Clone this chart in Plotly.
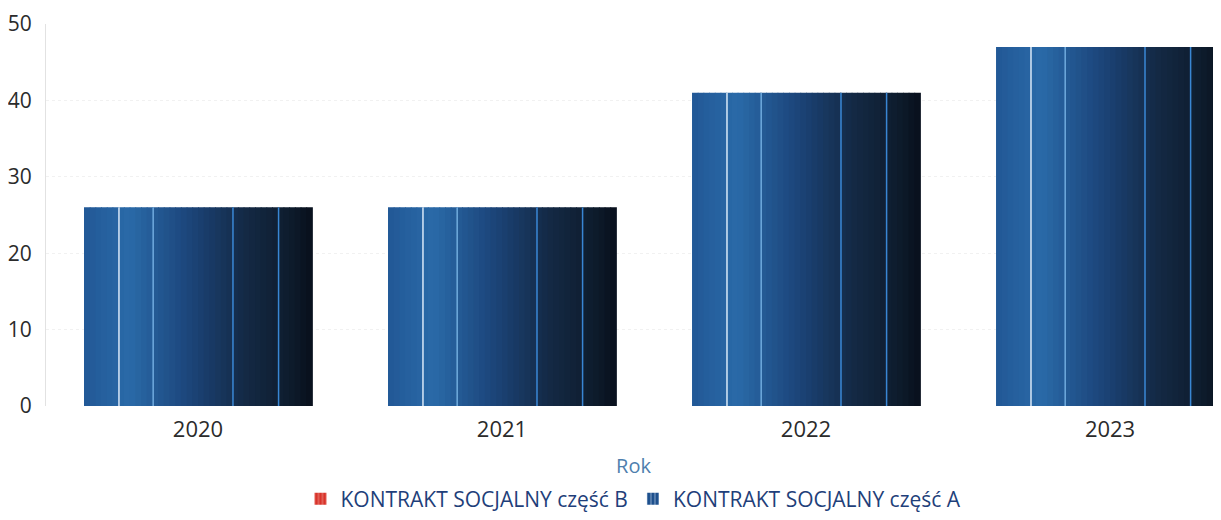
import plotly.graph_objects as go

# data
years = ["2020", "2021", "2022", "2023"]
part_a = [26, 26, 41, 47]
part_b = [0, 0, 0, 0]

# look of the scanned bars: horizontal gradient + thin vertical streaks
grad = [(0.0, (34, 88, 150)), (0.2, (42, 106, 168)), (0.45, (28, 70, 124)),
        (0.7, (20, 42, 70)), (0.9, (14, 28, 45)), (1.0, (8, 16, 28))]
streaks = [(0.15, "rgba(235,245,255,0.9)"), (0.30, "rgba(120,180,230,0.9)"),
           (0.65, "rgba(60,140,220,0.95)"), (0.85, "rgba(60,140,220,0.95)")]
bar_w = 0.75
n_slices = 40


def colour_at(t):
    for (t0, c0), (t1, c1) in zip(grad, grad[1:]):
        if t <= t1:
            f = (t - t0) / (t1 - t0)
            return "rgb(%d,%d,%d)" % tuple(round(a + (b - a) * f) for a, b in zip(c0, c1))
    return "rgb(%d,%d,%d)" % grad[-1][1]


fig = go.Figure()
sw = bar_w / n_slices
for i in range(n_slices):
    fig.add_trace(go.Bar(
        x=years, y=part_a, width=sw * 1.15, offset=-bar_w / 2 + i * sw,
        marker=dict(color=colour_at((i + 0.5) / n_slices), line_width=0),
        showlegend=False, hoverinfo="skip"))
for pos, col in streaks:
    fig.add_trace(go.Bar(
        x=years, y=part_a, width=0.005, offset=-bar_w / 2 + pos * bar_w,
        marker=dict(color=col, line_width=0), showlegend=False, hoverinfo="skip"))

# legend entries
fig.add_trace(go.Bar(
    x=years, y=part_b, name="KONTRAKT SOCJALNY część B",
    marker=dict(color="#d8332a", line_width=0,
                pattern=dict(shape="|", fgcolor="#f3c2b8", size=5, solidity=0.3))))
fig.add_trace(go.Bar(
    x=years, y=[None] * 4, name="KONTRAKT SOCJALNY część A",
    marker=dict(color="#1d4f8c", line_width=0,
                pattern=dict(shape="|", fgcolor="#d8e8f8", size=5, solidity=0.3))))

# page body has an 8px margin, so the figure is a bit smaller than the window
fig.update_layout(
    width=1213, height=512, barmode="overlay",
    margin=dict(l=38, r=0, t=16, b=112),
    paper_bgcolor="white", plot_bgcolor="white",
    font=dict(family="Open Sans", size=21, color="#2b2b2b"),
    xaxis=dict(type="category", range=[-0.5, 3.365], showgrid=False, automargin=False,
               ticks="outside", ticklen=4, tickcolor="rgba(0,0,0,0)",
               title=dict(text="Rok", font=dict(size=20, color="#4f7fae"), standoff=16),
               tickfont=dict(size=22, color="#2b2b2b")),
    yaxis=dict(range=[0, 50], dtick=10, showgrid=True, gridcolor="#f1f1f1",
               griddash="dot", showline=True, linecolor="#e2e2e2", zeroline=False,
               automargin=False, ticklabelstandoff=9,
               tickfont=dict(size=21, color="#2b2b2b")),
    legend=dict(orientation="h", x=0.5, xanchor="center", y=-0.19, yanchor="top",
                font=dict(size=21, color="#1f3f7a"), traceorder="normal"),
)

fig.write_html("out.html")
